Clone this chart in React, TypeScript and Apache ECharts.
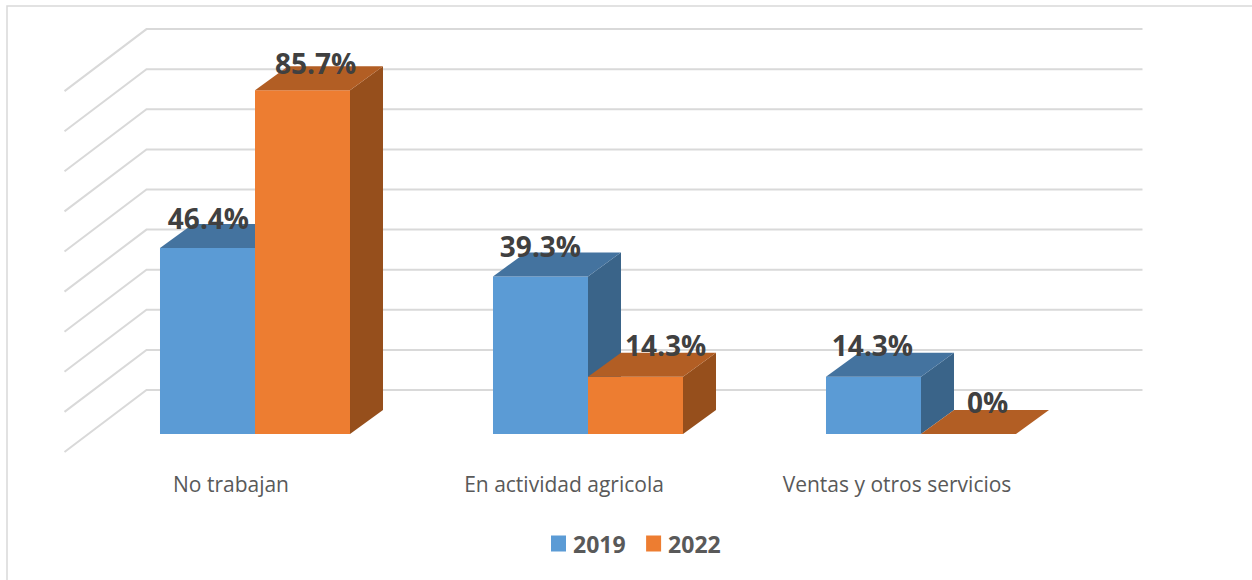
import React, { useEffect, useRef } from "react";
import * as echarts from "echarts";

const categories = ["No trabajan", "En actividad agricola", "Ventas y otros servicios"];
const values2019 = [46.4, 39.3, 14.3];
const values2022 = [85.7, 14.3, 0];
const wallTicks = [0, 10, 20, 30, 40, 50, 60, 70, 80, 90];

const FONT = "'Open Sans', sans-serif";
const DEPTH_X = 33;
const DEPTH_Y = 24;
const PLANE_X = 24;
const PLANE_Y = 18;
const WALL_X = 82;
const WALL_Y = 62;
const WALL_RIGHT = 1142.5;
const labelShift2019 = [1, 0, -1];
const labelShift2022 = [13, 30, 19];

function barSeries(name: string, values: number[], side: number, colors: string[], shifts: number[]) {
  return {
    name,
    type: "custom",
    coordinateSystem: "cartesian2d",
    itemStyle: { color: colors[0] },
    encode: { x: 0, y: 1 },
    data: values.map((v, i) => [i, v]),
    z: 5,
    renderItem: (_: any, api: any) => {
      const cat = api.value(0);
      const val = api.value(1);
      const [cx, yTop0] = api.coord([cat, val]);
      const [, yBase0] = api.coord([cat, 0]);
      const band = api.size([1, 0])[0];
      const w = band / 3.505;
      const x0 = cx + PLANE_X + (side === 0 ? -w : 0);
      const x1 = x0 + w;
      const yTop = yTop0 - PLANE_Y;
      const yBase = yBase0 - PLANE_Y;
      const children: any[] = [];
      if (val > 0) {
        children.push({
          type: "polygon",
          shape: { points: [[x1, yTop], [x1 + DEPTH_X, yTop - DEPTH_Y], [x1 + DEPTH_X, yBase - DEPTH_Y], [x1, yBase]] },
          style: { fill: colors[2] },
        });
        children.push({
          type: "rect",
          shape: { x: x0, y: yTop, width: w, height: yBase - yTop },
          style: { fill: colors[0] },
        });
      }
      children.push({
        type: "polygon",
        shape: { points: [[x0, yTop], [x1, yTop], [x1 + DEPTH_X, yTop - DEPTH_Y], [x0 + DEPTH_X, yTop - DEPTH_Y]] },
        style: { fill: colors[1] },
      });
      children.push({
        type: "text",
        z2: 50,
        style: {
          x: (x0 + x1) / 2 + shifts[cat],
          y: yTop - (32 - 0.05 * val),
          text: `${val}%`,
          fill: "#404040",
          font: `bold 28px ${FONT}`,
          align: "center",
          verticalAlign: "middle",
        },
      });
      return { type: "group", children };
    },
  };
}

export default function App() {
  const ref = useRef<HTMLDivElement>(null);
  useEffect(() => {
    const chart = echarts.init(ref.current!, null, { renderer: "svg" });
    chart.setOption({
      animation: false,
      backgroundColor: "#ffffff",
      grid: { left: 64.5, top: 51, width: 999, height: 401 },
      xAxis: {
        type: "category",
        data: categories,
        axisLine: { show: false },
        axisTick: { show: false },
        splitLine: { show: false },
        axisLabel: { color: "#595959", fontFamily: FONT, fontSize: 21, margin: 21 },
      },
      yAxis: { type: "value", min: 0, max: 100, interval: 10, show: false },
      legend: {
        data: ["2019", "2022"],
        left: 551,
        top: 532,
        icon: "rect",
        itemWidth: 15,
        itemHeight: 16,
        itemGap: 20.5,
        textStyle: { color: "#595959", fontFamily: FONT, fontWeight: "bold", fontSize: 23, padding: [0, 0, 0, 2] },
        padding: 0,
      },
      graphic: [
        {
          type: "polyline",
          shape: { points: [[7, 580], [7, 6], [1252, 6]] },
          style: { stroke: "#d9d9d9", lineWidth: 1.5, fill: "none" },
          silent: true,
        },
      ],
      series: [
        {
          name: "wall",
          type: "custom",
          coordinateSystem: "cartesian2d",
          encode: { y: 1 },
          data: wallTicks.map((t) => [0, t]),
          z: 1,
          silent: true,
          renderItem: (params: any, api: any) => {
            const y = api.coord([0, api.value(1)])[1];
            const left = params.coordSys.x;
            return {
              type: "polyline",
              shape: { points: [[left, y], [left + WALL_X, y - WALL_Y], [WALL_RIGHT, y - WALL_Y]] },
              style: { stroke: "#d9d9d9", lineWidth: 2, fill: "none" },
            };
          },
        },
        barSeries("2019", values2019, 0, ["#5B9BD5", "#44739F", "#3A6489"], labelShift2019),
        barSeries("2022", values2022, 1, ["#ED7D31", "#B25E24", "#964F1C"], labelShift2022),
      ],
    });
    return () => chart.dispose();
  }, []);
  return <div ref={ref} style={{ position: "fixed", left: 0, top: 0, width: 1252, height: 580 }} />;
}
